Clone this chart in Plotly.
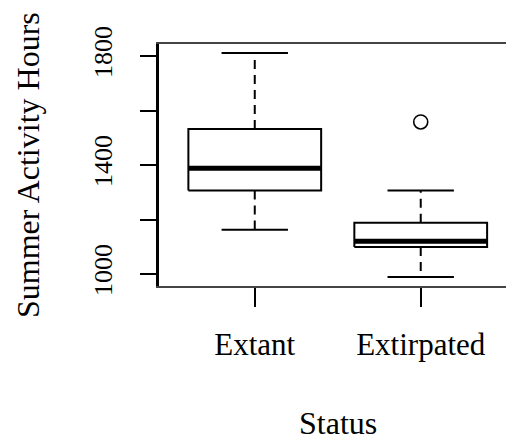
import plotly.graph_objects as go

# ---- data ----
categories = ["Extant", "Extirpated"]
lower_whisker = [1162, 989]
q1 = [1306, 1099]
median = [1388, 1120]
q3 = [1532, 1188]
upper_whisker = [1811, 1306]
outlier_category = ["Extirpated"]
outlier_value = [1558]

y_tick_values = [1000, 1200, 1400, 1600, 1800]
y_tick_labels = ["1000", "", "1400", "", "1800"]

FONT = "Liberation Serif, Times New Roman, serif"
BOX_HALF = 0.4
CAP_HALF = 0.2

fig = go.Figure()
pos = {c: i + 1 for i, c in enumerate(categories)}

for i, c in enumerate(categories):
    p = pos[c]
    # whiskers (dashed)
    fig.add_trace(go.Scatter(
        x=[p, p, None, p, p],
        y=[q3[i], upper_whisker[i], None, q1[i], lower_whisker[i]],
        mode="lines", line=dict(color="black", width=2, dash="9px,6px"),
        hoverinfo="skip", showlegend=False))
    # staples
    fig.add_trace(go.Scatter(
        x=[p - CAP_HALF, p + CAP_HALF, None, p - CAP_HALF, p + CAP_HALF],
        y=[upper_whisker[i], upper_whisker[i], None, lower_whisker[i], lower_whisker[i]],
        mode="lines", line=dict(color="black", width=2),
        hoverinfo="skip", showlegend=False))
    # box
    fig.add_trace(go.Scatter(
        x=[p - BOX_HALF, p + BOX_HALF, p + BOX_HALF, p - BOX_HALF, p - BOX_HALF],
        y=[q1[i], q1[i], q3[i], q3[i], q1[i]],
        mode="lines", fill="toself", fillcolor="white",
        line=dict(color="black", width=2),
        hoverinfo="skip", showlegend=False))
    # median
    fig.add_trace(go.Scatter(
        x=[p - BOX_HALF, p + BOX_HALF], y=[median[i], median[i]],
        mode="lines", line=dict(color="black", width=5),
        hoverinfo="skip", showlegend=False))

# outliers
fig.add_trace(go.Scatter(
    x=[pos[c] for c in outlier_category], y=outlier_value,
    mode="markers",
    marker=dict(symbol="circle-open", size=14, color="black", line=dict(width=1.6)),
    hoverinfo="skip", showlegend=False))

fig.update_layout(
    width=506, height=436,
    margin=dict(l=151, r=0, t=36, b=158, autoexpand=False),
    paper_bgcolor="white", plot_bgcolor="white",
    font=dict(family=FONT, color="black"),
    xaxis=dict(
        range=[0.423, 2.562], tickmode="array", tickvals=[1, 2], ticktext=categories,
        ticks="outside", ticklen=19, tickwidth=2, tickcolor="black",
        showline=True, linecolor="#444", linewidth=1.5, mirror=True,
        showgrid=False, zeroline=False, automargin=False,
        tickfont=dict(family=FONT, size=31, color="black"),
        ticklabelstandoff=11,
    ),
    yaxis=dict(
        range=[956, 1844], tickmode="array", tickvals=y_tick_values, ticktext=y_tick_labels,
        ticks="outside", ticklen=16, tickwidth=2, tickcolor="black",
        showline=True, linecolor="black", linewidth=2.5,
        showgrid=False, zeroline=False, tickangle=-90, automargin=False,
        tickfont=dict(family=FONT, size=26, color="black"),
        ticklabelstandoff=18,
    ),
    annotations=[
        dict(text="Status", xref="paper", yref="paper", x=0.503, y=-0.566,
             xanchor="center", yanchor="middle", showarrow=False,
             font=dict(family=FONT, size=32, color="black")),
        dict(text="Summer Activity Hours", xref="paper", yref="paper", x=-0.369, y=0.5,
             xanchor="center", yanchor="middle", textangle=-90, showarrow=False,
             font=dict(family=FONT, size=32, color="black")),
    ],
)

fig.write_html("out.html")
